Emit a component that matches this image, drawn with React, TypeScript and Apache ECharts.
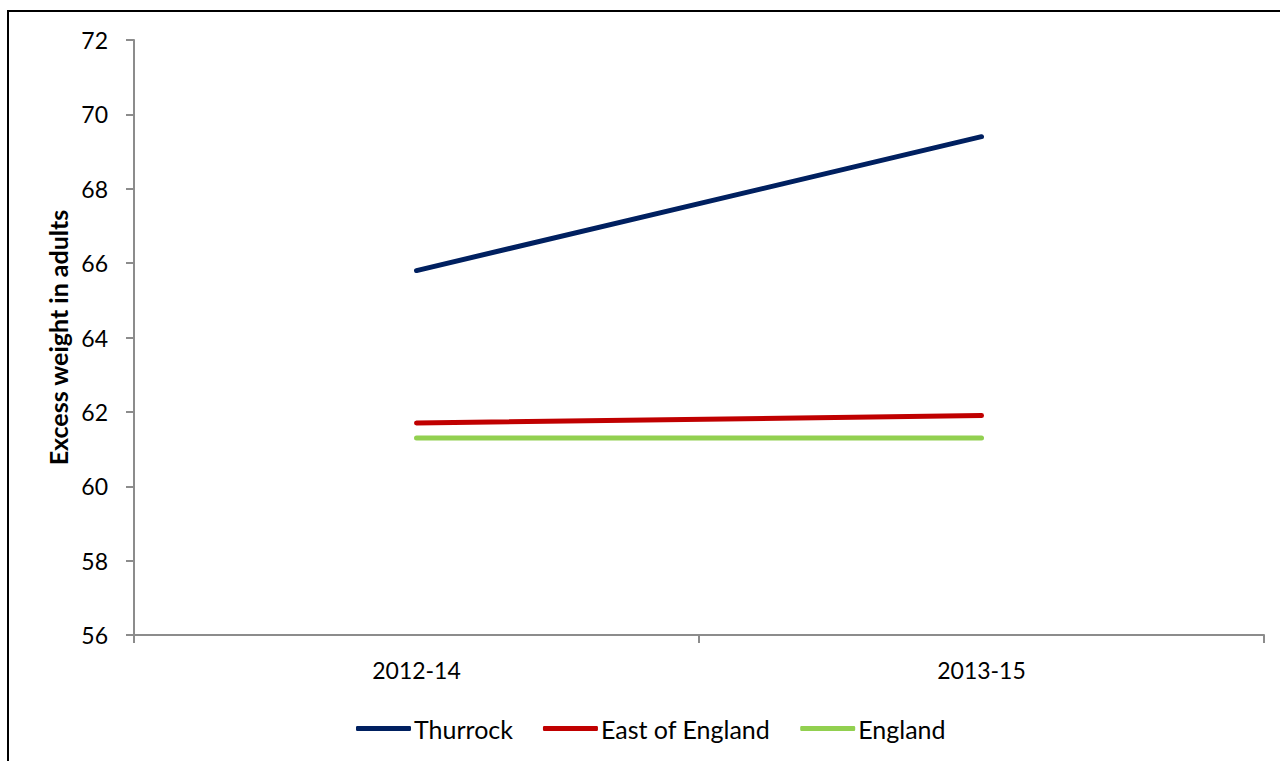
import React, { useEffect, useRef } from "react";
import * as echarts from "echarts";

const categories = ["2012-14", "2013-15"];
const thurrock = [65.8, 69.4];
const eastOfEngland = [61.7, 61.9];
const england = [61.3, 61.3];
const seriesNames = ["Thurrock", "East of England", "England"];
const seriesColors = ["#002060", "#C00000", "#92D050"];

const FONT = "Lato, 'Open Sans', sans-serif";

export default function App() {
  const ref = useRef<HTMLDivElement>(null);
  useEffect(() => {
    document.body.style.margin = "0";
    const chart = echarts.init(ref.current!, null, { renderer: "svg" });
    const data = [thurrock, eastOfEngland, england];
    chart.setOption({
      animation: false,
      backgroundColor: "#ffffff",
      textStyle: { fontFamily: FONT, color: "#000" },
      graphic: [
        {
          type: "rect",
          shape: { x: 8, y: 11, width: 1400, height: 900 },
          style: { fill: "none", stroke: "#000", lineWidth: 2 },
          silent: true,
        },
      ],
      grid: { left: 134, right: 16, top: 40, bottom: 126 },
      legend: {
        top: 711,
        left: 351,
        icon: "roundRect",
        itemWidth: 55,
        itemHeight: 5,
        itemGap: 30,
        textStyle: { fontFamily: FONT, fontSize: 25, color: "#000", padding: [0, 0, 0, -2] },
        data: seriesNames,
      },
      xAxis: {
        type: "category",
        data: categories,
        boundaryGap: true,
        axisLine: { lineStyle: { color: "#8c8c8c", width: 2 } },
        axisTick: { show: true, length: 8, lineStyle: { color: "#8c8c8c", width: 2 } },
        axisLabel: { fontFamily: FONT, fontSize: 23, color: "#000", margin: 23 },
      },
      yAxis: {
        type: "value",
        min: 56,
        max: 72,
        interval: 2,
        name: "Excess weight in adults",
        nameLocation: "middle",
        nameGap: 60,
        nameTextStyle: { fontFamily: FONT, fontSize: 25, fontWeight: "bold", color: "#000" },
        axisLine: { show: true, lineStyle: { color: "#8c8c8c", width: 2 } },
        axisTick: { show: true, length: 8, lineStyle: { color: "#8c8c8c", width: 2 } },
        splitLine: { show: false },
        axisLabel: { fontFamily: FONT, fontSize: 23, color: "#000", margin: 26 },
      },
      series: seriesNames.map((name, i) => ({
        name,
        type: "line",
        data: data[i],
        symbol: "none",
        color: seriesColors[i],
        lineStyle: { color: seriesColors[i], width: 5, cap: "round" },
      })),
    });
    return () => chart.dispose();
  }, []);
  return <div ref={ref} style={{ width: 1280, height: 761 }} />;
}
